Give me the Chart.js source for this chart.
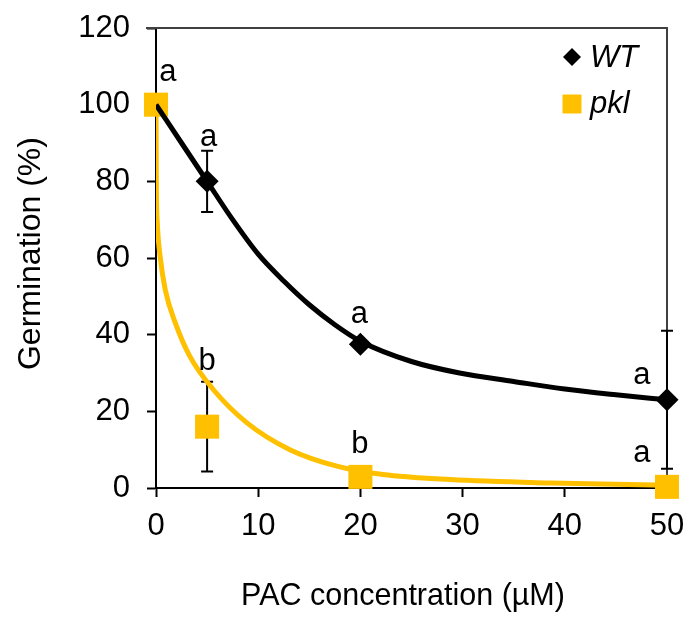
<!DOCTYPE html>
<html>
<head>
<meta charset="utf-8">
<script src="https://cdn.jsdelivr.net/npm/chart.js@4.4.1/dist/chart.umd.min.js"></script>
<style>
html,body{margin:0;padding:0;background:#fff;}
#wrap{width:689px;height:620px;}
</style>
</head>
<body>
<div id="wrap"><canvas id="c" width="689" height="620"></canvas></div>
<script>
// ---- data ----
const seriesNames = ['WT', 'pkl'];
const concentrations = [0, 5, 20, 50];
const wtMeans = [100, 80, 37.5, 23];
const wtErrors = [0, 8, 0, 18];
const pklMeans = [100, 16, 2.9, 0.3];
const pklErrors = [0, 11.7, 0, 0];

// fitted trend curves
const wtCurveX = [0, 2.5, 5, 7.5, 10, 12.5, 15, 17.5, 20, 25, 29.7, 35, 40, 45, 50];
const wtCurveY = [100, 90, 80, 70, 61, 54, 47.8, 42.6, 38.3, 33, 30, 27.8, 25.8, 24.3, 23.0];
const pklCurveX = [0, 0.03, 0.13, 0.4, 0.9, 1.9, 3.3, 5.6, 8.9, 13.1, 17.7, 22.2, 28.8, 38.6, 50];
const pklCurveY = [100, 80, 69, 60.5, 51.8, 43, 34.4, 25.7, 17, 10, 5.7, 3.5, 2.2, 1.3, 0.7];

const xTicks = [0, 10, 20, 30, 40, 50];
const yTicks = [0, 20, 40, 60, 80, 100, 120];

// significance letters (x, baseline y in data units)
const letterText = ['a', 'a', 'b', 'a', 'b', 'a', 'a'];
const letterX = [1.17, 5.14, 4.99, 19.9, 19.96, 47.55, 47.55];
const letterY = [106.1, 89.2, 30.8, 43.1, 9.2, 27.2, 6.8];

const FONT = "'Liberation Sans', Arial, Helvetica, sans-serif";
const GOLD = '#FFC000';

const toPts = (xs, ys) => xs.map((x, i) => ({x: x, y: ys[i]}));

const decorPlugin = {
  id: 'decor',
  beforeDatasetsDraw(chart) {
    const ctx = chart.ctx, xs = chart.scales.x, ys = chart.scales.y, ca = chart.chartArea;
    ctx.save();
    // plot frame (top and right)
    ctx.strokeStyle = '#404040';
    ctx.lineWidth = 2;
    ctx.beginPath();
    ctx.moveTo(ca.left - 10, ca.top);
    ctx.lineTo(ca.right, ca.top);
    ctx.lineTo(ca.right, ca.bottom);
    ctx.stroke();
    // error bars
    ctx.strokeStyle = '#000';
    ctx.lineWidth = 2;
    const cap = 6;
    const drawErr = (means, errs) => {
      concentrations.forEach((c, i) => {
        const e = errs[i];
        if (!e) return;
        const px = xs.getPixelForValue(c);
        const top = ys.getPixelForValue(means[i] + e);
        const bot = ys.getPixelForValue(means[i] - e);
        ctx.beginPath();
        ctx.moveTo(px, top); ctx.lineTo(px, bot);
        ctx.moveTo(px - cap, top); ctx.lineTo(px + cap, top);
        ctx.moveTo(px - cap, bot); ctx.lineTo(px + cap, bot);
        ctx.stroke();
      });
    };
    drawErr(wtMeans, wtErrors);
    drawErr(pklMeans, pklErrors);
    ctx.restore();
  },
  afterDatasetsDraw(chart) {
    const ctx = chart.ctx, xs = chart.scales.x, ys = chart.scales.y, ca = chart.chartArea;
    ctx.save();
    // letters
    ctx.fillStyle = '#000';
    ctx.font = '31px ' + FONT;
    ctx.textAlign = 'center';
    ctx.textBaseline = 'alphabetic';
    letterText.forEach((t, i) => {
      ctx.fillText(t, xs.getPixelForValue(letterX[i]), ys.getPixelForValue(letterY[i]));
    });
    // legend
    const mx = ca.right - 95;
    const tx = ca.right - 77;
    const y1 = ca.top + 29;
    ctx.fillStyle = '#000';
    ctx.beginPath();
    ctx.moveTo(mx, y1 - 9); ctx.lineTo(mx + 9, y1); ctx.lineTo(mx, y1 + 9); ctx.lineTo(mx - 9, y1);
    ctx.closePath();
    ctx.fill();
    const y2 = ca.top + 76;
    ctx.fillStyle = GOLD;
    ctx.fillRect(mx - 9.5, y2 - 9.5, 19, 19);
    ctx.fillStyle = '#000';
    ctx.font = 'italic 31px ' + FONT;
    ctx.textAlign = 'left';
    ctx.textBaseline = 'alphabetic';
    ctx.fillText(seriesNames[0], tx, ca.top + 39);
    ctx.fillText(seriesNames[1], tx, ca.top + 85);
    ctx.restore();
  }
};

new Chart(document.getElementById('c'), {
  type: 'scatter',
  data: {
    datasets: [
      {
        label: seriesNames[0] + ' points', type: 'scatter',
        data: toPts(concentrations, wtMeans),
        pointStyle: 'rectRot', pointRadius: 11.5, pointHoverRadius: 11.5,
        backgroundColor: '#000', borderColor: '#000', borderWidth: 0,
        clip: false, order: 4
      },
      {
        label: seriesNames[1] + ' fit', type: 'line',
        data: toPts(pklCurveX, pklCurveY),
        borderColor: GOLD, borderWidth: 5, pointRadius: 0, fill: false,
        cubicInterpolationMode: 'monotone', order: 3
      },
      {
        label: seriesNames[1] + ' points', type: 'scatter',
        data: toPts(concentrations, pklMeans),
        pointStyle: 'rect', pointRadius: 17, pointHoverRadius: 17,
        backgroundColor: GOLD, borderColor: GOLD, borderWidth: 0,
        clip: false, order: 2
      },
      {
        label: seriesNames[0] + ' fit', type: 'line',
        data: toPts(wtCurveX, wtCurveY),
        borderColor: '#000', borderWidth: 5, pointRadius: 0, fill: false,
        cubicInterpolationMode: 'monotone', order: 1
      }
    ]
  },
  options: {
    responsive: false,
    animation: false,
    devicePixelRatio: 1,
    layout: {padding: {left: 0, top: 28, right: 22, bottom: 0}},
    plugins: {legend: {display: false}, tooltip: {enabled: false}},
    scales: {
      x: {
        type: 'linear', min: 0, max: 50,
        afterBuildTicks: s => { s.ticks = xTicks.map(v => ({value: v})); },
        afterFit: s => { s.height = 132; s.paddingLeft = 0; s.paddingRight = 0; },
        grid: {display: true, drawOnChartArea: false, drawTicks: true, tickLength: 9, tickColor: '#000', tickWidth: 2},
        border: {display: true, color: '#000', width: 2},
        ticks: {color: '#000', font: {family: FONT, size: 31}, padding: 11, maxRotation: 0, autoSkip: false},
        title: {display: true, text: 'PAC concentration (µM)  ', color: '#000', font: {family: FONT, size: 30.5}, padding: {top: 0, bottom: 5}}
      },
      y: {
        type: 'linear', min: 0, max: 120,
        afterBuildTicks: s => { s.ticks = yTicks.map(v => ({value: v})); },
        afterFit: s => { s.width = 156; s.paddingTop = 0; s.paddingBottom = 0; },
        grid: {display: true, drawOnChartArea: false, drawTicks: true, tickLength: 9, tickColor: '#000', tickWidth: 2},
        border: {display: true, color: '#000', width: 2},
        ticks: {color: '#000', font: {family: FONT, size: 31}, padding: 17, autoSkip: false},
        title: {display: true, text: ' Germination (%)', color: '#000', font: {family: FONT, size: 32}, padding: {top: 12, bottom: 0}}
      }
    }
  },
  plugins: [decorPlugin]
});
</script>
</body>
</html>
